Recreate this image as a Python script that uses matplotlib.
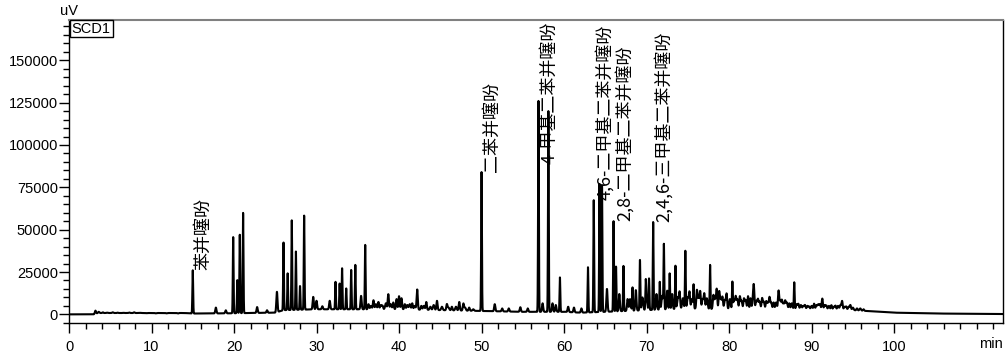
import numpy as np
import matplotlib
matplotlib.use("Agg")
import matplotlib.pyplot as plt
from matplotlib.ticker import MultipleLocator

# peak retention times (min) and apex heights (uV)
peak_rt = [3.2, 3.6, 4.1, 4.6, 5.3, 5.9, 6.6, 7.3, 7.9, 8.6, 9.4, 10.5, 11.8, 13.2,
           15.0, 17.8, 19.0, 19.9, 20.4, 20.7, 21.1, 22.8, 24.0, 25.2, 26.0, 26.5,
           27.0, 27.5, 28.0, 28.5, 29.6, 30.0, 30.7, 31.6, 32.3, 32.8, 33.1, 33.6,
           34.2, 34.7, 35.4, 35.9, 36.3, 36.9, 37.5, 38.0, 38.7, 39.3, 39.7, 40.0,
           40.3, 40.7, 41.6, 42.2, 42.7, 43.3, 44.6, 45.8, 46.4, 47.3, 47.8, 48.5,
           50.0, 51.6, 52.5, 53.3, 54.7, 55.6, 56.9, 57.4, 58.1, 58.6, 59.0, 59.5,
           60.5, 61.2, 62.1, 62.9, 63.6, 64.3, 64.6, 65.2, 66.0, 66.3, 66.7, 67.2,
           67.7, 68.3, 68.7, 69.2, 69.9, 70.3, 70.8, 71.2, 71.6, 72.1, 72.5, 72.8,
           73.1, 73.5, 74.0, 74.7, 75.2, 75.7, 76.1, 76.5, 77.0, 77.7, 78.1, 78.5,
           78.8, 79.2, 79.7, 80.4, 80.8, 81.3, 81.8, 82.3, 82.6, 83.0, 83.5, 84.0,
           84.5, 84.9, 85.4, 86.0, 86.4, 86.8, 87.3, 87.9, 88.4, 89.2, 89.7, 90.3,
           90.8, 91.3, 91.8, 92.4, 92.9, 93.7, 94.2, 94.7, 95.5, 96.3]
peak_h = [2200, 1500, 1200, 1000, 1200, 1000, 900, 1100, 1200, 900, 700, 600, 600, 500,
          26000, 4000, 2400, 45600, 20200, 47000, 59900, 4300, 2400, 13300, 42400, 24200,
          55500, 37100, 16700, 58300, 10300, 8000, 4800, 8000, 19200, 18200, 27200, 15300,
          26200, 29200, 10900, 41000, 6000, 8300, 7300, 5000, 11900, 7000, 9000, 10700,
          9500, 6000, 6500, 14700, 5000, 7300, 8000, 6000, 4500, 7300, 6300, 4000,
          84000, 6000, 3500, 3500, 4200, 3500, 126000, 6500, 120000, 6500, 5500, 21800,
          4500, 4000, 3500, 27800, 67400, 77000, 76000, 15000, 55000, 28200, 12000, 28600,
          9000, 15900, 14300, 32100, 17300, 21200, 54500, 12000, 19200, 41000, 14000, 24200,
          12000, 28700, 13000, 37500, 13000, 17300, 14000, 13300, 12000, 29200, 11000, 14700,
          13300, 10000, 11900, 18900, 10000, 10300, 9000, 10700, 9500, 14700, 8500, 9300,
          7500, 9700, 7000, 13700, 8000, 7700, 6500, 18900, 6000, 5400, 4500, 6300,
          5500, 9300, 5000, 5400, 5000, 7700, 4500, 5400, 3500, 3000]

# unresolved small humps between the main peaks
minor_rt = [36.6, 37.2, 37.8, 38.4, 39.0, 41.0, 41.3, 41.9, 43.0, 43.8, 44.2, 45.2,
            46.0, 46.9, 48.0, 49.0, 68.0, 69.5, 70.0, 71.9, 73.8, 74.4, 75.0, 75.5,
            76.3, 76.8, 77.3, 78.3, 79.0, 79.5, 80.1, 80.6, 81.0, 81.5, 82.0, 82.9,
            83.3, 83.7, 84.2, 84.7, 85.1, 85.7, 86.2, 86.6, 87.0, 87.6, 88.2, 88.7,
            89.0, 89.5, 90.0, 90.6, 91.0, 91.6, 92.1, 92.7, 93.2, 93.5, 94.0, 94.5,
            95.0, 95.9]
minor_h = [5000, 6000, 5500, 6500, 6000, 5500, 6000, 5000, 5000, 4500, 5500, 4500,
           4000, 4500, 4000, 3000, 9000, 10000, 9000, 11000, 10000, 9500, 10000, 9000,
           9500, 9000, 9500, 9000, 9000, 8500, 9000, 8500, 9000, 8000, 8500, 8500,
           8000, 7500, 7500, 7000, 7000, 7000, 8000, 6500, 7000, 6500, 6000, 5500,
           5000, 5000, 5000, 5500, 6000, 5500, 5000, 4500, 5000, 5500, 4500, 4500,
           4000, 3500]

# slow baseline drift under the peaks
base_t = [0, 3.0, 3.5, 14, 15, 19, 25, 26, 30, 35, 40, 45, 50, 55, 60, 62, 65, 70,
          75, 80, 85, 90, 95, 100, 105, 113.2]
base_v = [0, 0, 800, 800, 500, 600, 1000, 2500, 3000, 3000, 3000, 2500, 2000, 1500,
          1500, 1000, 1500, 2500, 3500, 3000, 3000, 3000, 2500, 1000, 500, 200]

# identified compounds and the retention time they sit on
label_names = ["苯并噻吩", "二苯并噻吩", "4-甲基二苯并噻吩", "4,6-二甲基二苯并噻吩",
               "2,8-二甲基二苯并噻吩", "2,4,6-三甲基二苯并噻吩"]
label_rt = [15.0, 50.0, 56.9, 63.6, 66.0, 70.8]

t = np.arange(0, 113.2, 0.01)
base = np.interp(t, base_t, base_v)
y = base.copy()
for rt, h in zip(peak_rt, peak_h):
    amp = h - np.interp(rt, base_t, base_v)
    sig = 0.045 if h > 15000 else 0.07
    y += amp * np.exp(-0.5 * ((t - rt) / sig) ** 2)
for rt, h in zip(minor_rt, minor_h):
    amp = h - np.interp(rt, base_t, base_v)
    y += amp * np.exp(-0.5 * ((t - rt) / 0.09) ** 2)

plt.rcParams['font.family'] = ['Liberation Sans', 'DejaVu Sans']
fig = plt.figure(figsize=(10.06, 3.54), dpi=100)
ax = fig.add_axes([69 / 1006, 1 - 323 / 354, (1003 - 69) / 1006, (323 - 20) / 354])

ax.plot(t, y, color="black", lw=1.5)
ax.set_xlim(0, 113.2)
ax.set_ylim(-5100, 173800)

ax.xaxis.set_major_locator(MultipleLocator(10))
ax.xaxis.set_minor_locator(MultipleLocator(2))
ax.yaxis.set_major_locator(MultipleLocator(25000))
ax.yaxis.set_minor_locator(MultipleLocator(5000))
ax.tick_params(axis="both", which="major", direction="out", length=7, width=1,
               labelsize=10.5, color="black")
ax.tick_params(axis="both", which="minor", direction="out", length=4, width=1)
ax.tick_params(axis="x", pad=5)
ax.tick_params(axis="y", pad=1)
ax.set_xticks(np.arange(0, 101, 10))
ax.set_yticks(np.arange(0, 150001, 25000))

for s in ["left", "bottom", "right"]:
    ax.spines[s].set_color("black")
    ax.spines[s].set_linewidth(1)
ax.spines["top"].set_color("#808080")
ax.spines["top"].set_linewidth(1.5)

ax.text(0.0, 1.005, "uV", transform=ax.transAxes, ha="center", va="bottom", fontsize=10.5)
ax.text(1.0, -0.045, "min", transform=ax.transAxes, ha="right", va="top", fontsize=10.5)
ax.text(0.003, 0.995, "SCD1", transform=ax.transAxes, ha="left", va="top", fontsize=10.5,
        bbox=dict(boxstyle="square,pad=0.12", fc="white", ec="black", lw=1))

# compound names, stood upright just right of each peak top
fig.canvas.draw()
renderer = fig.canvas.get_renderer()
ax_top = ax.get_window_extent(renderer).y1
for name, rt in zip(label_names, label_rt):
    apex = float(np.interp(rt, t, y))
    txt = ax.text(rt + 1.3, apex, name, rotation=90, ha="center", va="bottom",
                  fontsize=13, fontweight="medium",
                  family=["Noto Sans CJK SC", "DejaVu Sans"])
    bb = txt.get_window_extent(renderer)
    if bb.y1 > ax_top - 2:
        shift = bb.y1 - (ax_top - 2)
        x0, y0 = ax.transData.transform((rt, apex))
        txt.set_position((rt + 1.3, ax.transData.inverted().transform((x0, y0 - shift))[1]))

fig.savefig("out.png", dpi=100)
